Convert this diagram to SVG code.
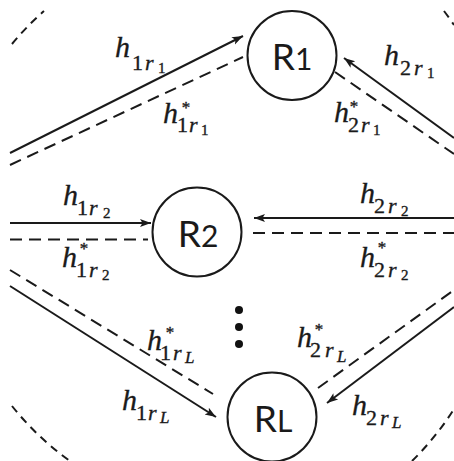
<svg xmlns="http://www.w3.org/2000/svg" width="454" height="461" viewBox="0 0 454 461">
<style>
.bg{fill:#ffffff}
.ln{stroke:#1a1a1a;stroke-width:2;fill:none}
.ds{stroke:#1a1a1a;stroke-width:2;fill:none;stroke-dasharray:12 7}
.arc{stroke:#1a1a1a;stroke-width:2;fill:none;stroke-dasharray:8 6}
.node{stroke:#1a1a1a;stroke-width:2;fill:#ffffff}
.nt{font-family:Lato,"Open Sans",sans-serif;fill:#1a1a1a;text-anchor:middle}
.nR{font-size:37px}
.nd{font-size:30px}
.m{font-family:"Liberation Serif","Times New Roman",serif;fill:#1a1a1a;stroke:#1a1a1a;stroke-width:0.35}
.h{font-size:30px;font-style:italic}
.s{font-size:22px}
.si{font-size:22px;font-style:italic}
.ss{font-size:15px}
.ssi{font-size:17px;font-style:italic}
.st{font-size:17px;text-anchor:middle}
.dot{fill:#111111}
</style>
<defs>
<marker id="ah" markerUnits="userSpaceOnUse" markerWidth="12" markerHeight="10" viewBox="0 0 12 10" refX="11" refY="5" orient="auto">
<path d="M0,1 L11,5 L0,9 L2.5,5 z" fill="#1a1a1a"/>
</marker>
</defs>
<rect class="bg" x="0" y="0" width="454" height="461"/>
<g id="boundary">
<path class="arc" d="M 12 44 A 290 290 0 0 1 44 11"/>
<path class="arc" d="M 444 11 A 290 290 0 0 1 454 25"/>
<path class="arc" d="M 12 406 A 290 290 0 0 0 70 461"/>
<path class="arc" d="M 412 461 A 290 290 0 0 0 454 409"/>
</g>
<g id="connectors">
<line class="ln" x1="10" y1="153" x2="243" y2="36" marker-end="url(#ah)"/>
<line class="ds" x1="10" y1="165" x2="243" y2="57"/>
<line class="ln" x1="454" y1="138" x2="344" y2="58" marker-end="url(#ah)"/>
<line class="ds" x1="335" y1="72" x2="454" y2="154"/>
<line class="ln" x1="10" y1="223" x2="151" y2="223" marker-end="url(#ah)"/>
<line class="ds" x1="10" y1="239.5" x2="148" y2="239.5"/>
<line class="ln" x1="454" y1="218" x2="254" y2="218" marker-end="url(#ah)"/>
<line class="ds" x1="253" y1="233" x2="454" y2="233"/>
<line class="ln" x1="10" y1="286" x2="216" y2="417" marker-end="url(#ah)"/>
<line class="ds" x1="10" y1="270" x2="213" y2="394"/>
<line class="ln" x1="454" y1="307" x2="327" y2="403" marker-end="url(#ah)"/>
<line class="ds" x1="318" y1="388" x2="454" y2="290"/>
</g>
<g id="R1">
<circle class="node" cx="292" cy="55.5" r="44.5"/>
<text class="nt" x="292" y="70"><tspan class="nR">R</tspan><tspan class="nd">1</tspan></text>
</g>
<g id="R2">
<circle class="node" cx="197" cy="232" r="44.5"/>
<text class="nt" x="198" y="247"><tspan class="nR">R</tspan><tspan class="nd">2</tspan></text>
</g>
<g id="RL">
<circle class="node" cx="272" cy="417" r="44.5"/>
<text class="nt" x="273" y="432"><tspan class="nR">R</tspan><tspan class="nd">L</tspan></text>
</g>
<g id="dots">
<circle class="dot" cx="239" cy="310" r="4"/>
<circle class="dot" cx="239" cy="327" r="4"/>
<circle class="dot" cx="239" cy="344" r="4"/>
</g>
<g id="labels">
<text class="m"><tspan class="h" x="115" y="57">h</tspan><tspan class="s" x="132" y="70">1</tspan><tspan class="si" x="145" y="70">r</tspan><tspan class="ss" x="158" y="73">1</tspan></text>
<text class="m"><tspan class="h" x="163" y="123">h</tspan><tspan class="st" x="186" y="113">*</tspan><tspan class="s" x="177" y="132">1</tspan><tspan class="si" x="189" y="132">r</tspan><tspan class="ss" x="201" y="135">1</tspan></text>
<text class="m"><tspan class="h" x="384" y="65">h</tspan><tspan class="s" x="400" y="75">2</tspan><tspan class="si" x="414" y="75">r</tspan><tspan class="ss" x="427" y="78">1</tspan></text>
<text class="m"><tspan class="h" x="334" y="122">h</tspan><tspan class="st" x="354" y="112">*</tspan><tspan class="s" x="348" y="132">2</tspan><tspan class="si" x="361" y="132">r</tspan><tspan class="ss" x="373" y="135">1</tspan></text>
<text class="m"><tspan class="h" x="63" y="205">h</tspan><tspan class="s" x="77" y="215">1</tspan><tspan class="si" x="89" y="215">r</tspan><tspan class="ss" x="103" y="218">2</tspan></text>
<text class="m"><tspan class="h" x="62" y="267">h</tspan><tspan class="st" x="84" y="254">*</tspan><tspan class="s" x="76" y="277">1</tspan><tspan class="si" x="89" y="277">r</tspan><tspan class="ss" x="102" y="280">2</tspan></text>
<text class="m"><tspan class="h" x="360" y="203">h</tspan><tspan class="s" x="374" y="213">2</tspan><tspan class="si" x="388" y="213">r</tspan><tspan class="ss" x="401" y="216">2</tspan></text>
<text class="m"><tspan class="h" x="360" y="267">h</tspan><tspan class="st" x="382" y="253">*</tspan><tspan class="s" x="374" y="277">2</tspan><tspan class="si" x="388" y="277">r</tspan><tspan class="ss" x="401" y="280">2</tspan></text>
<text class="m"><tspan class="h" x="147" y="350">h</tspan><tspan class="st" x="170" y="338">*</tspan><tspan class="s" x="160" y="360">1</tspan><tspan class="si" x="173" y="360">r</tspan><tspan class="ssi" x="185" y="363">L</tspan></text>
<text class="m"><tspan class="h" x="122" y="410">h</tspan><tspan class="s" x="136" y="420">1</tspan><tspan class="si" x="148" y="420">r</tspan><tspan class="ssi" x="160" y="423">L</tspan></text>
<text class="m"><tspan class="h" x="297" y="347">h</tspan><tspan class="st" x="319" y="335">*</tspan><tspan class="s" x="310" y="357">2</tspan><tspan class="si" x="325" y="357">r</tspan><tspan class="ssi" x="337" y="362">L</tspan></text>
<text class="m"><tspan class="h" x="352" y="415">h</tspan><tspan class="s" x="366" y="425">2</tspan><tspan class="si" x="380" y="425">r</tspan><tspan class="ssi" x="392" y="428">L</tspan></text>
</g>
</svg>
